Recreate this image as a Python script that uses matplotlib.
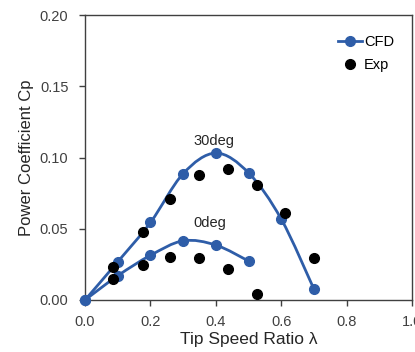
import numpy as np
import matplotlib
matplotlib.use("Agg")
import matplotlib.pyplot as plt
from matplotlib.path import Path
from matplotlib.patches import PathPatch

plt.rcParams['font.family'] = ['Liberation Sans', 'DejaVu Sans']

# CFD results
cfd30_tsr = [0.0, 0.1, 0.2, 0.3, 0.4, 0.5, 0.6, 0.7]
cfd30_cp = [0.0, 0.0268, 0.0544, 0.0887, 0.1031, 0.0892, 0.0567, 0.0075]
cfd0_tsr = [0.0, 0.1, 0.2, 0.3, 0.4, 0.5]
cfd0_cp = [0.0, 0.0170, 0.0313, 0.0415, 0.0385, 0.0273]

# experiment
exp_tsr = [0.085, 0.085, 0.178, 0.178, 0.26, 0.26, 0.349, 0.349,
           0.436, 0.436, 0.525, 0.525, 0.611, 0.700]
exp_cp = [0.0233, 0.0145, 0.0474, 0.0245, 0.0712, 0.0303, 0.0877, 0.0296,
          0.0917, 0.0219, 0.0805, 0.0042, 0.0607, 0.0292]

blue = '#2E5DA8'


def smooth_path(x, y, t=1/6):
    # excel style smoothed line, cubic bezier through the points
    x = np.asarray(x)
    y = np.asarray(y)
    verts = [(x[0], y[0])]
    codes = [Path.MOVETO]
    n = len(x)
    for i in range(n - 1):
        i0 = max(i - 1, 0)
        i3 = min(i + 2, n - 1)
        c1 = (x[i] + (x[i + 1] - x[i0]) * t, y[i] + (y[i + 1] - y[i0]) * t)
        c2 = (x[i + 1] - (x[i3] - x[i]) * t, y[i + 1] - (y[i3] - y[i]) * t)
        verts += [c1, c2, (x[i + 1], y[i + 1])]
        codes += [Path.CURVE4] * 3
    return Path(verts, codes)


fig = plt.figure(figsize=(4.15, 3.52), dpi=100)
ax = fig.add_axes([0.205, 0.148, 0.788, 0.809])

for xs, ys in [(cfd30_tsr, cfd30_cp), (cfd0_tsr, cfd0_cp)]:
    ax.add_patch(PathPatch(smooth_path(xs, ys), fill=False, edgecolor=blue,
                           lw=2, zorder=2, clip_on=False))
    ax.plot(xs, ys, 'o', color=blue, ms=7, zorder=3, clip_on=False)

ax.plot(exp_tsr, exp_cp, 'o', color='black', ms=7, zorder=4, clip_on=False)

# legend handles
ax.plot([], [], '-o', color=blue, lw=2, ms=7, label='CFD')
ax.plot([], [], 'o', color='black', ms=7, label='Exp')
ax.legend(loc='upper right', bbox_to_anchor=(0.985, 0.975), frameon=False,
          fontsize=10.5, handlelength=1.6, handletextpad=0.15,
          labelspacing=0.6)

ax.text(0.395, 0.1115, '30deg', ha='center', va='center', fontsize=10.5,
        color='#262626')
ax.text(0.38, 0.054, '0deg', ha='center', va='center', fontsize=10.5,
        color='#262626')

ax.set_xlim(0, 1.0)
ax.set_ylim(0, 0.20)
ax.set_xticks(np.arange(0, 1.01, 0.2))
ax.set_yticks(np.arange(0, 0.201, 0.05))
ax.xaxis.set_major_formatter(plt.FormatStrFormatter('%.1f'))
ax.yaxis.set_major_formatter(plt.FormatStrFormatter('%.2f'))
ax.tick_params(direction='out', length=4, width=1, labelsize=10.5,
               colors='#404040', labelcolor='#404040')
ax.tick_params(axis='y', pad=8)
ax.tick_params(axis='x', pad=7)
for s in ax.spines.values():
    s.set_color('#404040')
    s.set_linewidth(1)

ax.set_xlabel('Tip Speed Ratio λ', fontsize=12.5, labelpad=2, color='#262626')
ax.set_ylabel('Power Coefficient Cp', fontsize=12, labelpad=4, color='#262626')

fig.savefig('out.png', dpi=100)
